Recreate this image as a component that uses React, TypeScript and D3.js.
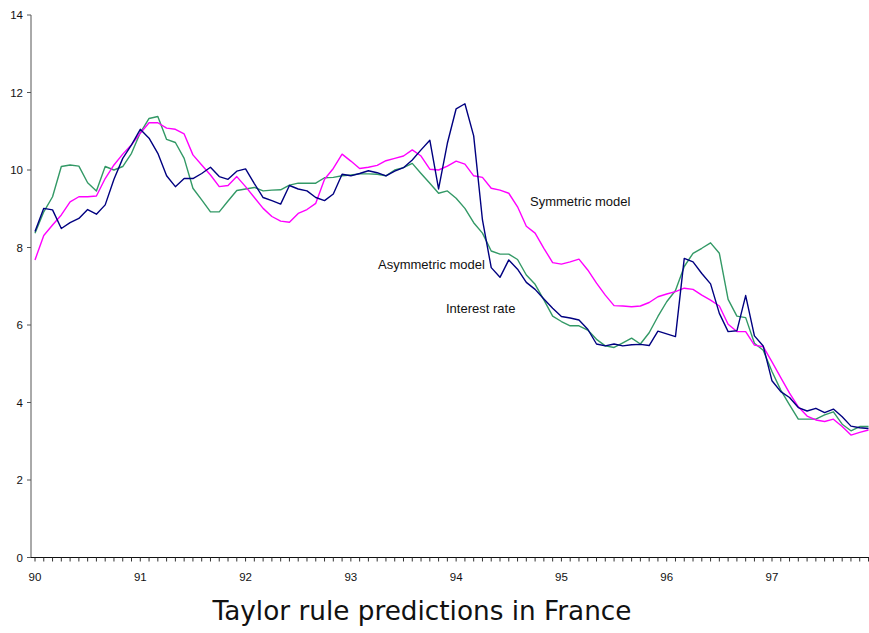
import React from "react";
import * as d3 from "d3";

const yearLabels = ["90", "91", "92", "93", "94", "95", "96", "97"];
const yTicks = [0, 2, 4, 6, 8, 10, 12, 14];

const interestRate = [
  8.41, 9.01, 8.97, 8.49, 8.64, 8.75, 8.98, 8.86, 9.10, 9.76, 10.30, 10.65,
  11.05, 10.82, 10.43, 9.85, 9.57, 9.78, 9.78, 9.91, 10.07, 9.83, 9.76, 9.97,
  10.03, 9.65, 9.29, 9.21, 9.12, 9.60, 9.51, 9.46, 9.29, 9.21, 9.38, 9.89,
  9.85, 9.91, 9.98, 9.93, 9.85, 9.97, 10.06, 10.26, 10.52, 10.77, 9.51, 10.69,
  11.58, 11.71, 10.88, 8.71, 7.48, 7.23, 7.68, 7.44, 7.10, 6.92, 6.67, 6.43,
  6.22, 6.18, 6.13, 5.89, 5.51, 5.46, 5.51, 5.46, 5.49, 5.50, 5.47, 5.84,
  5.77, 5.70, 7.72, 7.63, 7.33, 7.06, 6.30, 5.83, 5.85, 6.76, 5.72, 5.46,
  4.56, 4.28, 4.13, 3.87, 3.78, 3.85, 3.74, 3.83, 3.63, 3.39, 3.35, 3.33,
];

const symmetricModel = [
  7.68, 8.31, 8.58, 8.84, 9.18, 9.31, 9.31, 9.33, 9.78, 10.13, 10.41, 10.65,
  10.95, 11.22, 11.22, 11.08, 11.05, 10.93, 10.39, 10.13, 9.87, 9.57, 9.60, 9.83,
  9.57, 9.29, 9.01, 8.80, 8.68, 8.65, 8.88, 8.98, 9.14, 9.76, 10.04, 10.41,
  10.23, 10.04, 10.07, 10.12, 10.24, 10.30, 10.36, 10.52, 10.36, 10.02, 10.00, 10.10,
  10.23, 10.15, 9.85, 9.81, 9.53, 9.48, 9.40, 9.05, 8.55, 8.37, 7.98, 7.61,
  7.57, 7.63, 7.70, 7.42, 7.08, 6.77, 6.50, 6.49, 6.47, 6.49, 6.58, 6.73,
  6.80, 6.86, 6.95, 6.92, 6.77, 6.64, 6.49, 6.02, 5.83, 5.83, 5.48, 5.44,
  5.05, 4.64, 4.24, 3.89, 3.65, 3.55, 3.51, 3.57, 3.38, 3.16, 3.23, 3.29,
];

const asymmetricModel = [
  8.37, 8.92, 9.31, 10.09, 10.13, 10.10, 9.67, 9.46, 10.09, 10.00, 10.09, 10.43,
  10.96, 11.33, 11.38, 10.79, 10.71, 10.30, 9.53, 9.23, 8.92, 8.92, 9.20, 9.47,
  9.51, 9.55, 9.46, 9.48, 9.49, 9.61, 9.66, 9.66, 9.66, 9.80, 9.81, 9.85,
  9.87, 9.90, 9.90, 9.89, 9.85, 10.00, 10.06, 10.17, 9.91, 9.66, 9.40, 9.46,
  9.27, 9.01, 8.64, 8.37, 7.91, 7.83, 7.83, 7.69, 7.29, 7.05, 6.65, 6.23,
  6.09, 5.98, 5.98, 5.87, 5.63, 5.46, 5.42, 5.54, 5.66, 5.51, 5.80, 6.22,
  6.60, 6.89, 7.51, 7.85, 7.98, 8.12, 7.85, 6.66, 6.23, 6.19, 5.53, 5.35,
  4.80, 4.32, 3.94, 3.57, 3.57, 3.57, 3.68, 3.76, 3.44, 3.27, 3.38, 3.38,
];

const seriesList = [
  { name: "Asymmetric model", values: asymmetricModel, color: "#339966" },
  { name: "Symmetric model", values: symmetricModel, color: "#FF00FF" },
  { name: "Interest rate", values: interestRate, color: "#000080" },
];

const W = 869;
const H = 633;

export default function App() {
  const n = interestRate.length;
  const x = d3.scaleLinear().domain([0, n - 1]).range([35, 868.5]);
  const y = d3.scaleLinear().domain([0, 14]).range([557.5, 15]);
  const line = d3
    .line<number>()
    .x((_, i) => x(i))
    .y((d) => y(d));
  const axisX = 31;
  const font = "Arial, 'Liberation Sans', sans-serif";

  return (
    <svg
      width={W}
      height={H}
      style={{ position: "absolute", left: 0, top: 0, background: "#fff" }}
    >
      {/* y axis */}
      <line x1={axisX} x2={axisX} y1={y(14)} y2={y(0)} stroke="#555" strokeWidth={1} />
      {yTicks.map((t) => (
        <g key={t}>
          <line x1={axisX - 4} x2={axisX} y1={y(t)} y2={y(t)} stroke="#555" />
          <text
            x={23}
            y={y(t)}
            dy="0.35em"
            textAnchor="end"
            fontFamily={font}
            fontSize={11.5}
            fill="#111"
          >
            {t}
          </text>
        </g>
      ))}
      {/* x axis */}
      <line x1={axisX} x2={W} y1={y(0)} y2={y(0)} stroke="#111" strokeWidth={1} />
      {d3.range(n).map((i) => (
        <line key={i} x1={x(i)} x2={x(i)} y1={y(0)} y2={y(0) + 4} stroke="#333" />
      ))}
      {yearLabels.map((lab, k) => (
        <text
          key={lab}
          x={x(k * 12)}
          y={577}
          dy="0.35em"
          textAnchor="middle"
          fontFamily={font}
          fontSize={11.5}
          fill="#111"
        >
          {lab}
        </text>
      ))}
      {/* series */}
      {seriesList.map((s) => (
        <path
          key={s.name}
          d={line(s.values) || ""}
          fill="none"
          stroke={s.color}
          strokeWidth={1.4}
          strokeLinejoin="round"
        />
      ))}
      {/* annotations */}
      <text x={530} y={201} dy="0.35em" fontFamily={font} fontSize={13} fill="#111">
        Symmetric model
      </text>
      <text x={378} y={264} dy="0.35em" fontFamily={font} fontSize={13} fill="#111">
        Asymmetric model
      </text>
      <text x={446} y={308} dy="0.35em" fontFamily={font} fontSize={13} fill="#111">
        Interest rate
      </text>
      {/* title */}
      <text
        x={422}
        y={611}
        dy="0.35em"
        textAnchor="middle"
        fontFamily="Tahoma, 'DejaVu Sans', sans-serif"
        fontSize={26.3}
        fill="#111"
      >
        Taylor rule predictions in France
      </text>
    </svg>
  );
}
